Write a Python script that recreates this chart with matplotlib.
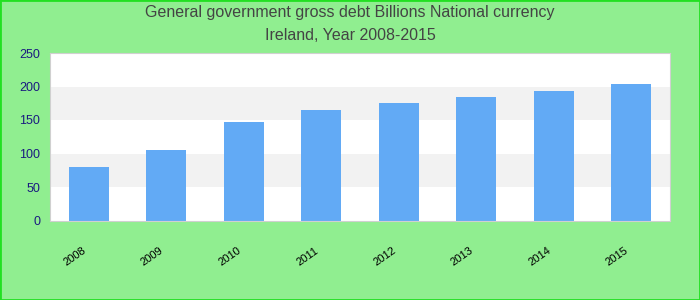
import matplotlib.pyplot as plt
import matplotlib.transforms as mtransforms
import numpy as np

years = ["2008", "2009", "2010", "2011", "2012", "2013", "2014", "2015"]
debt = [80, 105, 147, 165, 175, 184, 193, 204]
y_ticks = [0, 50, 100, 150, 200, 250]

plt.rcParams['font.family'] = ['Liberation Sans', 'DejaVu Sans']

fig = plt.figure(figsize=(7, 3), dpi=100, facecolor="#90ee90")
ax = fig.add_axes([50 / 700, 79.5 / 300, 620 / 700, 167.5 / 300])
ax.set_facecolor("white")

# alternating bands
for i in range(len(y_ticks) - 1):
    if i % 2 == 1:
        ax.axhspan(y_ticks[i], y_ticks[i + 1], color="#f2f2f2", zorder=0, lw=0)

x = np.arange(len(years))
ax.bar(x, debt, width=0.52, color="#62aaf5", zorder=2)

ax.set_xlim(-0.5, len(years) - 0.5)
ax.set_ylim(0, 250)
ax.set_yticks(y_ticks)
ax.set_yticklabels([str(v) for v in y_ticks], color="#1a1a80", fontsize=9)
ax.set_xticks(x)
ax.set_xticklabels(years, rotation=35, ha="right", rotation_mode="anchor", fontsize=8)
ax.tick_params(axis="x", length=0, pad=18)
ax.tick_params(axis="y", length=0, pad=7)
shift = mtransforms.ScaledTranslation(-7 / 100, 0, fig.dpi_scale_trans)
for lbl in ax.get_xticklabels():
    lbl.set_transform(lbl.get_transform() + shift)
for s in ax.spines.values():
    s.set_color("#d0d0d0")

fig.text(0.5, 0.957, "General government gross debt Billions National currency",
         ha="center", va="center", fontsize=11.5, color="#444444")
fig.text(0.5, 0.883, "Ireland, Year 2008-2015",
         ha="center", va="center", fontsize=11.5, color="#444444")

# figure border
fig.patches.append(plt.Rectangle((0, 0), 1, 1, transform=fig.transFigure,
                                 fill=False, edgecolor="#22e022", lw=2))

fig.savefig("out.png", dpi=100, facecolor=fig.get_facecolor())
